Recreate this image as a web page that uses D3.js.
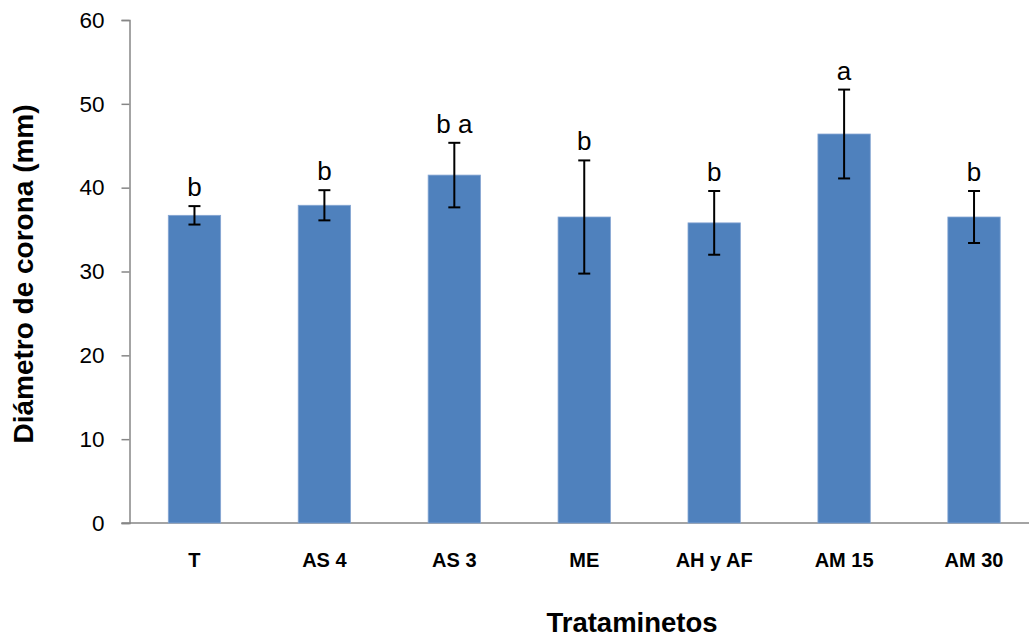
<!DOCTYPE html>
<html>
<head>
<meta charset="utf-8">
<script src="https://cdn.jsdelivr.net/npm/d3@7"></script>
<style>
  html, body { margin: 0; padding: 0; background: #fff; }
  svg { display: block; font-family: "Liberation Sans", Arial, sans-serif; }
</style>
</head>
<body>
<svg id="chart" width="1029" height="637"></svg>
<script>
// Treatments and crown diameter means (mm) with standard deviations
const categories = ["T", "AS 4", "AS 3", "ME", "AH y AF", "AM 15", "AM 30"];
const means = [36.7, 37.9, 41.5, 36.5, 35.8, 46.4, 36.5];
const errors = [1.1, 1.8, 3.85, 6.75, 3.8, 5.3, 3.1];
const groups = ["b", "b", "b a", "b", "b", "a", "b"];
const yTicks = [0, 10, 20, 30, 40, 50, 60];

const svg = d3.select("#chart");
const plotLeft = 129.5, plotRight = 1039, plotTop = 20, plotBottom = 523;

const x = d3.scaleBand()
  .domain(categories)
  .range([plotLeft, plotRight])
  .paddingInner(0.597)
  .paddingOuter(0.2985);

const y = d3.scaleLinear().domain([0, 60]).range([plotBottom, plotTop]);

const axisColor = "#868686";

// Y axis
const yAxis = svg.append("g")
  .attr("transform", `translate(${plotLeft},0)`)
  .call(d3.axisLeft(y).tickValues(yTicks).tickSize(8).tickPadding(17).tickFormat(d3.format("d")));
yAxis.select(".domain").attr("stroke", axisColor).attr("stroke-width", 1.5);
yAxis.selectAll(".tick line").attr("stroke", axisColor).attr("stroke-width", 1.5);
yAxis.selectAll(".tick text")
  .attr("font-size", 22.5)
  .attr("fill", "#000")
  .attr("font-family", "Liberation Sans, Arial, sans-serif");

// X axis baseline
svg.append("line")
  .attr("x1", plotLeft - 8).attr("x2", 1029)
  .attr("y1", y(0)).attr("y2", y(0))
  .attr("stroke", axisColor).attr("stroke-width", 1.5);

const data = categories.map((c, i) => ({ c, m: means[i], e: errors[i], g: groups[i] }));

// Bars
svg.append("g").selectAll("rect")
  .data(data)
  .join("rect")
  .attr("x", d => x(d.c))
  .attr("y", d => y(d.m))
  .attr("width", x.bandwidth())
  .attr("height", d => y(0) - y(d.m))
  .attr("fill", "#4f81bd")
  .attr("stroke", "#86a6d3")
  .attr("stroke-width", 0.8);

// Error bars
const eb = svg.append("g").attr("stroke", "#000").attr("stroke-width", 2);
const cx = d => x(d.c) + x.bandwidth() / 2;
eb.selectAll("line.v").data(data).join("line").attr("class", "v")
  .attr("x1", cx).attr("x2", cx)
  .attr("y1", d => y(d.m + d.e)).attr("y2", d => y(d.m - d.e));
eb.selectAll("line.t").data(data).join("line").attr("class", "t")
  .attr("x1", d => cx(d) - 6).attr("x2", d => cx(d) + 6)
  .attr("y1", d => y(d.m + d.e)).attr("y2", d => y(d.m + d.e));
eb.selectAll("line.b").data(data).join("line").attr("class", "b")
  .attr("x1", d => cx(d) - 6).attr("x2", d => cx(d) + 6)
  .attr("y1", d => y(d.m - d.e)).attr("y2", d => y(d.m - d.e));

// Significance letters
svg.append("g").selectAll("text")
  .data(data)
  .join("text")
  .attr("x", cx)
  .attr("y", d => y(d.m + d.e) - 10)
  .attr("text-anchor", "middle")
  .attr("font-size", 26)
  .attr("fill", "#000")
  .text(d => d.g);

// Category labels
svg.append("g").selectAll("text")
  .data(categories)
  .join("text")
  .attr("x", d => x(d) + x.bandwidth() / 2)
  .attr("y", 567)
  .attr("text-anchor", "middle")
  .attr("font-size", 20)
  .attr("font-weight", "bold")
  .attr("fill", "#000")
  .text(d => d);

// Axis titles
svg.append("text")
  .attr("transform", "translate(33,274) rotate(-90)")
  .attr("text-anchor", "middle")
  .attr("font-size", 28)
  .attr("font-weight", "bold")
  .attr("fill", "#000")
  .text("Diámetro de corona (mm)");

svg.append("text")
  .attr("x", 632)
  .attr("y", 632)
  .attr("text-anchor", "middle")
  .attr("font-size", 27.5)
  .attr("font-weight", "bold")
  .attr("fill", "#000")
  .text("Trataminetos");
</script>
</body>
</html>
